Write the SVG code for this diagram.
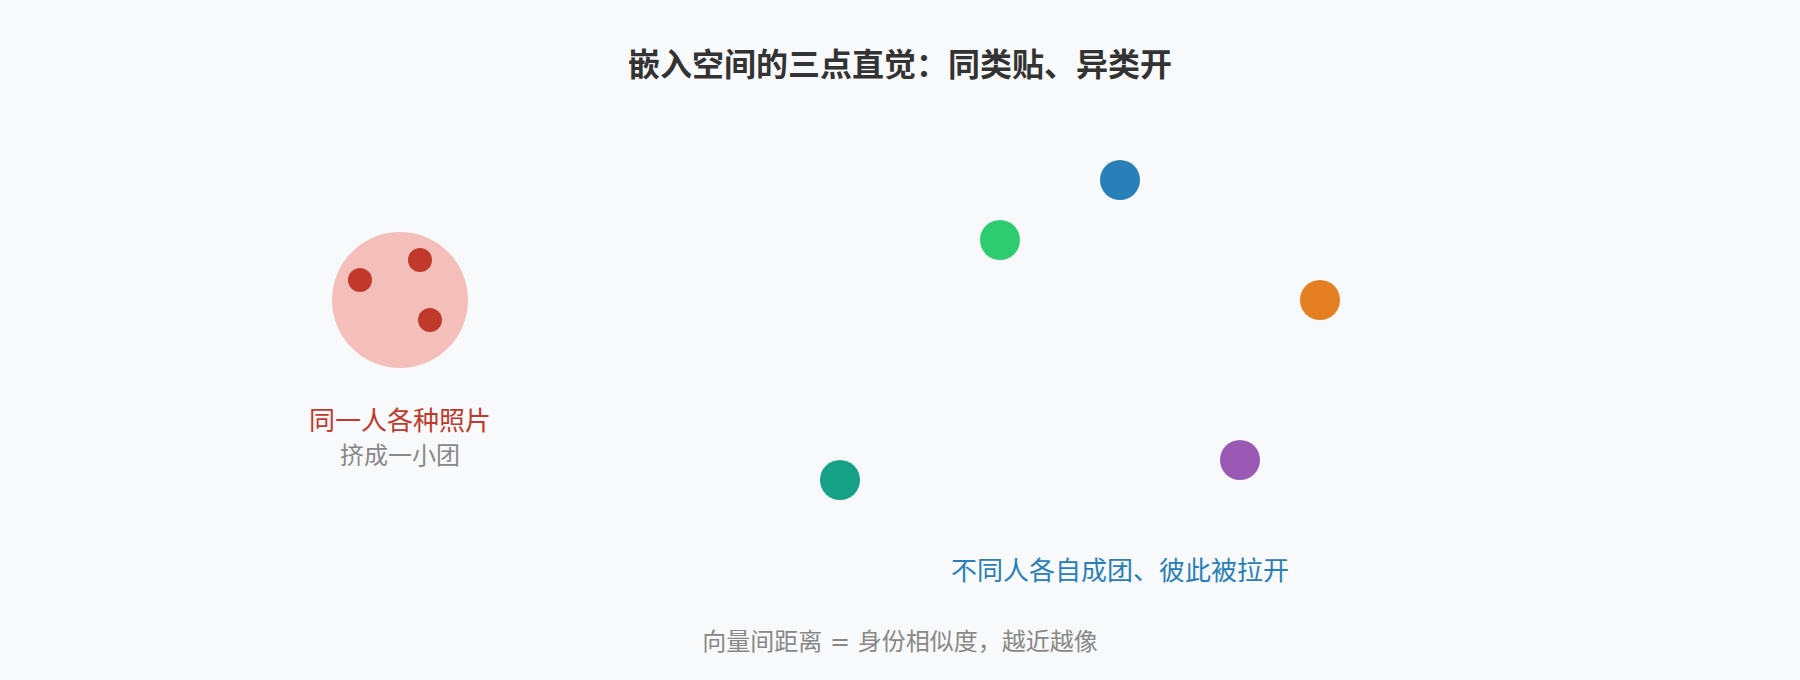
<svg xmlns="http://www.w3.org/2000/svg" width="1800" height="680" viewBox="0 0 1800 680">
  <style>
    text { font-family: "Noto Sans CJK SC", "Noto Sans", sans-serif; text-anchor: middle; }
    .title { font-size: 32px; font-weight: bold; fill: #333333; }
    .red { font-size: 26px; fill: #c0392b; }
    .gray { font-size: 24px; fill: #888888; }
    .blue { font-size: 26px; fill: #2980b9; }
    .caption { font-family: "DejaVu Sans", "Noto Sans CJK SC", sans-serif; }
    .dot { stroke: none; }
  </style>
  <rect x="0" y="0" width="1800" height="680" fill="#f8f9fa"/>
  <text id="title" class="title" x="900" y="76">嵌入空间的三点直觉：同类贴、异类开</text>

  <g id="cluster">
    <circle cx="400" cy="300" r="68" fill="#f4bfba"/>
    <circle class="dot" cx="360" cy="280" r="12" fill="#c0392b"/>
    <circle class="dot" cx="420" cy="260" r="12" fill="#c0392b"/>
    <circle class="dot" cx="430" cy="320" r="12" fill="#c0392b"/>
    <text class="red" x="400" y="430">同一人各种照片</text>
    <text class="gray" x="400" y="464">挤成一小团</text>
  </g>

  <g id="point-blue"><circle class="dot" cx="1120" cy="180" r="20" fill="#2980b9"/></g>
  <g id="point-green"><circle class="dot" cx="1000" cy="240" r="20" fill="#2ecc71"/></g>
  <g id="point-orange"><circle class="dot" cx="1320" cy="300" r="20" fill="#e67e22"/></g>
  <g id="point-purple"><circle class="dot" cx="1240" cy="460" r="20" fill="#9b59b6"/></g>
  <g id="point-teal"><circle class="dot" cx="840" cy="480" r="20" fill="#16a085"/></g>

  <g id="connectors"></g>

  <text id="others-label" class="blue" x="1120" y="580">不同人各自成团、彼此被拉开</text>
  <text id="caption" class="gray caption" x="900" y="650">向量间距离 = 身份相似度，越近越像</text>
</svg>
